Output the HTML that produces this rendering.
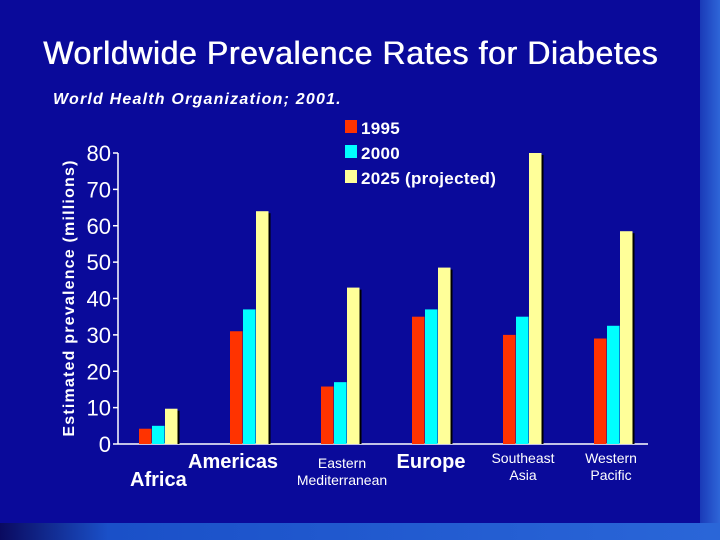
<!DOCTYPE html>
<html><head><meta charset="utf-8"><style>
body{margin:0;width:720px;height:540px;overflow:hidden;background:#0a0a9a;font-family:"Liberation Sans",sans-serif}
.t{position:absolute;color:#fff;white-space:nowrap}
</style></head><body>
<div style="position:absolute;left:0;top:0;width:720px;height:540px;background:#0a0a9a">
<div style="position:absolute;left:700px;top:0;width:20px;height:540px;background:linear-gradient(90deg,#1a3ab8,#2e66d8)"></div>
<div style="position:absolute;left:0;top:523px;width:720px;height:17px;background:linear-gradient(90deg,#0a0a60,#1a50c8 15%,#2a66d8)"></div>
<div class="t" style="left:43px;top:35px;font-size:32px;letter-spacing:0.6px;text-shadow:0.6px 0 0 #fff">Worldwide Prevalence Rates for Diabetes</div>
<div class="t" style="left:53px;top:91px;font-size:16px;font-weight:bold;font-style:italic;letter-spacing:1.2px">World Health Organization; 2001.</div>
<svg id="c" width="720" height="540" style="position:absolute;left:0;top:0"></svg>
</div>
<script>
const categories=["Africa","Americas","Eastern Mediterranean","Europe","Southeast Asia","Western Pacific"];
const v1995=[4.2,31,15.8,35,30,29];
const v2000=[5,37,17,37,35,32.5];
const v2025=[9.7,64,43,48.5,80,58.5];
const seriesNames=["1995","2000","2025 (projected)"];
const yTicks=[0,10,20,30,40,50,60,70,80];
const NS="http://www.w3.org/2000/svg";
const svg=document.getElementById('c');
const y0=444,y1=153,vmax=80;
const y=v=>y0-(v/vmax)*(y0-y1);
const x=i=>158+i*91;
function el(t,a){const e=document.createElementNS(NS,t);for(const k in a)e.setAttribute(k,a[k]);svg.appendChild(e);return e;}
let a=el('line',{x1:118,y1:y1,x2:118,y2:y0,stroke:'#fff','stroke-width':1.5});

a=el('line',{x1:118,y1:y0,x2:648,y2:y0,stroke:'#fff','stroke-width':1.5});

yTicks.forEach(t=>{
 let l=el('line',{x1:113,x2:118,y1:y(t),y2:y(t),stroke:'#fff','stroke-width':1.5});
 
 let tx=el('text',{x:111,y:y(t)+8,'text-anchor':'end',fill:'#fff','font-size':22,'font-family':'Liberation Sans'});
 tx.textContent=t;
});
let yt=el('text',{transform:'translate(74,298) rotate(-90)','text-anchor':'middle',fill:'#fff','font-size':16,'font-weight':'bold','letter-spacing':1.2,'font-family':'Liberation Sans'});
yt.textContent='Estimated prevalence (millions)';
const cols=['#ff3300','#00ffff','#ffff99'];
const series=[v1995,v2000,v2025];
series.forEach((s,k)=>{s.forEach((v,i)=>{
 const bx=x(i)-19+k*13;
 if(k==2){let sh=el('rect',{x:bx+2,y:y(v)+2,width:12.5,height:y0-y(v)-2,fill:'#000'});}
 let r=el('rect',{x:bx,y:y(v),width:12.5,height:y0-y(v),fill:cols[k]});
 
});});
seriesNames.forEach((n,k)=>{
 let r=el('rect',{x:345,y:120+k*25,width:12,height:13,fill:cols[k]});
 
 let t=el('text',{x:361,y:134+k*25,fill:'#fff','font-size':17,'font-weight':'bold','letter-spacing':0.3,'font-family':'Liberation Sans'});
 t.textContent=n;
});
const labs=[[["Africa"],130,486,20,'bold','start'],[["Americas"],188,468,20,'bold','start'],[["Eastern","Mediterranean"],342,468,14,'normal','middle'],[["Europe"],431,468,20,'bold','middle'],[["Southeast","Asia"],523,463,14,'normal','middle'],[["Western","Pacific"],611,463,14,'normal','middle']];
labs.forEach(([lines,lx,ly,fs,fw,an])=>{lines.forEach((s,j)=>{
 let t=el('text',{x:lx,y:ly+j*17,fill:'#fff','font-size':fs,'font-weight':fw,'text-anchor':an,'font-family':'Liberation Sans'});
 t.textContent=s;
});});
</script>
</body></html>
